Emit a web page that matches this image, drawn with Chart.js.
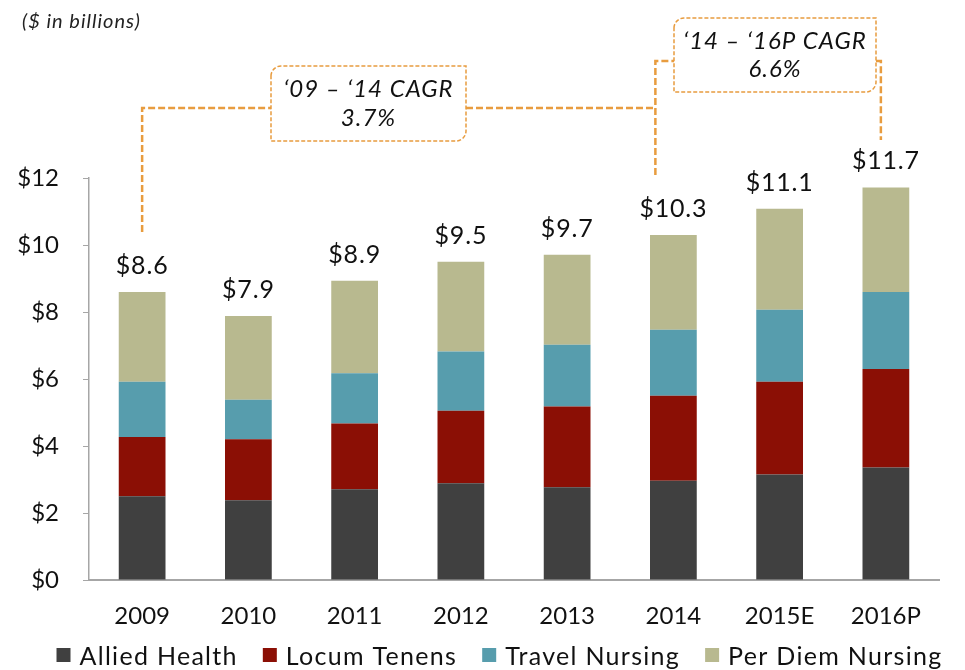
<!DOCTYPE html>
<html>
<head>
<meta charset="utf-8">
<script src="https://cdn.jsdelivr.net/npm/chart.js@4"></script>
<style>
  html, body { margin: 0; padding: 0; background: #fff; }
  #wrap { width: 965px; height: 670px; position: relative; }
</style>
</head>
<body>
<div id="wrap"><canvas id="chart" width="965" height="670"></canvas></div>
<script>
const years = ['2009', '2010', '2011', '2012', '2013', '2014', '2015E', '2016P'];
const alliedHealth   = [2.50, 2.38, 2.71, 2.89, 2.77, 2.96, 3.15, 3.36];
const locumTenens    = [1.77, 1.82, 1.96, 2.16, 2.41, 2.54, 2.77, 2.94];
const travelNursing  = [1.65, 1.18, 1.50, 1.77, 1.84, 1.97, 2.15, 2.30];
const perDiemNursing = [2.68, 2.50, 2.76, 2.68, 2.69, 2.83, 3.01, 3.12];
const yTicks = [0, 2, 4, 6, 8, 10, 12];

const FONT = 'Lato, "Open Sans", sans-serif';
const ORANGE = '#E89C3F';

// totals above each stack
const totalsPlugin = {
    id: 'totals',
    afterDatasetsDraw(chart) {
        const ctx = chart.ctx;
        const top = chart.getDatasetMeta(3).data;
        ctx.save();
        ctx.font = '25px ' + FONT;
        ctx.letterSpacing = '0.8px';
        ctx.fillStyle = '#111';
        ctx.textAlign = 'center';
        ctx.textBaseline = 'alphabetic';
        years.forEach((y, i) => {
            const total = alliedHealth[i] + locumTenens[i] + travelNursing[i] + perDiemNursing[i];
            ctx.fillText('$' + total.toFixed(1), top[i].x, top[i].y - 18);
        });
        ctx.restore();
    }
};

// legend drawn by hand so spacing matches
const legendPlugin = {
    id: 'bottomLegend',
    afterDraw(chart) {
        const ctx = chart.ctx;
        const sets = chart.data.datasets;
        ctx.save();
        ctx.font = '25px ' + FONT;
        ctx.letterSpacing = '1.3px';
        ctx.textBaseline = 'alphabetic';
        ctx.textAlign = 'left';
        const box = 14, gapIn = 9, gapOut = 25;
        const widths = sets.map(d => ctx.measureText(d.label).width);
        let total = widths.reduce((a, b) => a + b, 0) + sets.length * (box + gapIn) + (sets.length - 1) * gapOut;
        let x = 499.5 - total / 2;
        sets.forEach((d, i) => {
            ctx.fillStyle = d.backgroundColor;
            ctx.fillRect(x, 648, box, box);
            x += box + gapIn;
            ctx.fillStyle = '#111';
            ctx.fillText(d.label, x, 665);
            x += widths[i] + gapOut;
        });
        ctx.restore();
    }
};

function cagrBox(ctx, x1, y1, x2, y2, r, lines, lineGap) {
    ctx.save();
    ctx.setLineDash([4, 2]);
    ctx.lineWidth = 1.5;
    ctx.strokeStyle = ORANGE;
    ctx.beginPath();
    ctx.moveTo(x1, y1 + r);
    ctx.arcTo(x1, y1, x1 + r, y1, r);
    ctx.lineTo(x2, y1);
    ctx.lineTo(x2, y2 - r);
    ctx.arcTo(x2, y2, x2 - r, y2, r);
    ctx.lineTo(x1, y2);
    ctx.closePath();
    ctx.stroke();
    ctx.setLineDash([]);
    ctx.fillStyle = '#111';
    ctx.font = 'italic 24px ' + FONT;
    ctx.letterSpacing = '1px';
    ctx.textAlign = 'center';
    ctx.textBaseline = 'middle';
    const cx = (x1 + x2) / 2;
    const cy = (y1 + y2) / 2;
    lines.forEach((t, i) => {
        ctx.fillText(t, cx, cy + (i - (lines.length - 1) / 2) * lineGap);
    });
    ctx.restore();
}

// CAGR brackets and the unit note
const annotationPlugin = {
    id: 'cagr',
    afterDraw(chart) {
        const ctx = chart.ctx;
        const xs = chart.scales.x;
        const x09 = xs.getPixelForValue(0);
        const x14 = xs.getPixelForValue(5) - 18;
        const x16 = xs.getPixelForValue(7) - 5;

        ctx.save();
        ctx.font = 'italic 20px ' + FONT;
        ctx.letterSpacing = '1px';
        ctx.fillStyle = '#222';
        ctx.textBaseline = 'middle';
        ctx.fillText('($ in billions)', 22, 22);

        ctx.strokeStyle = ORANGE;
        ctx.lineWidth = 2.5;
        ctx.setLineDash([7, 3]);
        ctx.beginPath();
        ctx.moveTo(x09, 232);
        ctx.lineTo(x09, 108);
        ctx.lineTo(271, 108);
        ctx.moveTo(466, 108);
        ctx.lineTo(x14, 108);
        ctx.moveTo(x14, 175);
        ctx.lineTo(x14, 61);
        ctx.lineTo(674, 61);
        ctx.moveTo(876, 61);
        ctx.lineTo(x16, 61);
        ctx.lineTo(x16, 140);
        ctx.stroke();
        ctx.restore();

        cagrBox(ctx, 271, 66, 466, 141, 10, ['\u201809 \u2013 \u201814 CAGR', '3.7%'], 29);
        cagrBox(ctx, 674, 18, 876, 92, 10, ['\u201814 \u2013 \u201816P CAGR', '6.6%'], 28);
    }
};

const ctx = document.getElementById('chart').getContext('2d');
new Chart(ctx, {
    type: 'bar',
    data: {
        labels: years,
        datasets: [
            { label: 'Allied Health', data: alliedHealth, backgroundColor: '#404040' },
            { label: 'Locum Tenens', data: locumTenens, backgroundColor: '#8B0F05' },
            { label: 'Travel Nursing', data: travelNursing, backgroundColor: '#579DAD' },
            { label: 'Per Diem Nursing', data: perDiemNursing, backgroundColor: '#B8B98F' }
        ]
    },
    options: {
        responsive: false,
        animation: false,
        layout: { padding: { left: 0, right: 26, top: 178, bottom: 40 } },
        datasets: {
            bar: { barPercentage: 0.44, categoryPercentage: 1.0, borderWidth: 0 }
        },
        scales: {
            x: {
                stacked: true,
                grid: { display: false, drawTicks: false },
                border: { display: true, color: '#A6A6A6', width: 2 },
                ticks: { color: '#111', font: { family: FONT, size: 24 }, padding: 22 },
                afterFit(scale) { scale.height = 50; }
            },
            y: {
                stacked: true,
                min: 0,
                max: 12,
                afterBuildTicks(scale) { scale.ticks = yTicks.map(v => ({ value: v })); },
                grid: { drawOnChartArea: false, drawTicks: true, tickLength: 6, color: '#A6A6A6' },
                border: { display: true, color: '#A6A6A6', width: 1.5 },
                ticks: {
                    color: '#111',
                    font: { family: FONT, size: 24 },
                    padding: 24,
                    callback: v => '$' + v
                },
                afterFit(scale) { scale.width = 89; }
            }
        },
        plugins: {
            legend: { display: false },
            tooltip: { enabled: false }
        }
    },
    plugins: [totalsPlugin, annotationPlugin, legendPlugin]
});
</script>
</body>
</html>
